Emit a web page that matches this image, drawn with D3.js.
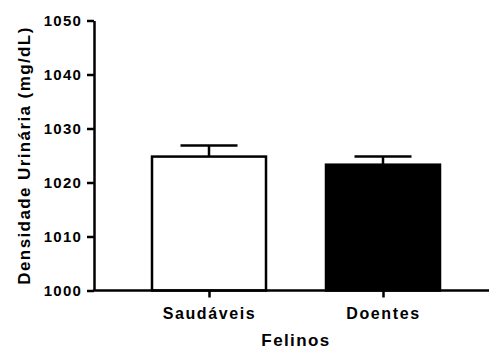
<!DOCTYPE html>
<html>
<head>
<meta charset="utf-8">
<script src="https://cdn.jsdelivr.net/npm/d3@7"></script>
<style>
    body { margin: 0; background: #fff; }
    text { font-family: "Liberation Sans", Arial, sans-serif; font-weight: bold; fill: #000; }
    .axis path, .axis line { stroke: #000; stroke-width: 2.5; }
</style>
</head>
<body>
<script>
//chart data
var categories = ["Saudáveis", "Doentes"];
var means = [1024.8, 1023.3];
var errors = [2.05, 1.5];
var fills = ["#ffffff", "#000000"];
var yTicks = [1000, 1010, 1020, 1030, 1040, 1050];

window.onload = drawChart();

function drawChart(){

    var width = 490,
        height = 349;

    var svg = d3.select("body")
        .append("svg")
        .attr("width", width)
        .attr("height", height);

    //y scale from the plot frame
    var y = d3.scaleLinear()
        .domain([1000, 1050])
        .range([290.5, 20.5]);

    //category positions
    var x = d3.scalePoint()
        .domain(categories)
        .range([122, 470])
        .padding(0.5);

    var barWidth = 114,
        capWidth = 57;

    //y axis
    var yAxis = svg.append("g")
        .attr("class", "axis")
        .attr("transform", "translate(94,0)")
        .call(d3.axisLeft(y)
            .tickValues(yTicks)
            .tickFormat(d3.format("d"))
            .tickSize(7)
            .tickSizeOuter(0)
            .tickPadding(5));

    yAxis.selectAll("text")
        .style("font-size", "15px")
        .style("letter-spacing", "1.2px");

    //bars
    var bars = svg.selectAll(".bar")
        .data(categories)
        .enter()
        .append("rect")
        .attr("class", "bar")
        .attr("x", function(d){ return x(d) - barWidth / 2; })
        .attr("y", function(d, i){ return y(means[i]); })
        .attr("width", barWidth)
        .attr("height", function(d, i){ return y(1000) - y(means[i]); })
        .attr("fill", function(d, i){ return fills[i]; })
        .attr("stroke", "#000")
        .attr("stroke-width", 2.5);

    //error bars (upper only)
    svg.selectAll(".errLine")
        .data(categories)
        .enter()
        .append("line")
        .attr("x1", function(d){ return x(d); })
        .attr("x2", function(d){ return x(d); })
        .attr("y1", function(d, i){ return y(means[i]); })
        .attr("y2", function(d, i){ return y(means[i] + errors[i]); })
        .attr("stroke", "#000")
        .attr("stroke-width", 2.5);

    svg.selectAll(".errCap")
        .data(categories)
        .enter()
        .append("line")
        .attr("x1", function(d){ return x(d) - capWidth / 2; })
        .attr("x2", function(d){ return x(d) + capWidth / 2; })
        .attr("y1", function(d, i){ return y(means[i] + errors[i]); })
        .attr("y2", function(d, i){ return y(means[i] + errors[i]); })
        .attr("stroke", "#000")
        .attr("stroke-width", 2.5);

    //x axis
    var xAxis = svg.append("g")
        .attr("class", "axis")
        .attr("transform", "translate(0," + y(1000) + ")")
        .call(d3.axisBottom(x).tickSize(7).tickPadding(10));

    xAxis.select(".domain").remove();
    xAxis.append("line")
        .attr("x1", 93)
        .attr("x2", 489)
        .attr("stroke", "#000")
        .attr("stroke-width", 2.5);

    xAxis.selectAll("text")
        .style("font-size", "16px")
        .style("letter-spacing", "1.6px");

    //axis titles
    svg.append("text")
        .attr("x", (x(categories[0]) + x(categories[1])) / 2)
        .attr("y", 346)
        .attr("text-anchor", "middle")
        .style("font-size", "17px")
        .style("letter-spacing", "1.4px")
        .text("Felinos");

    svg.append("text")
        .attr("transform", "translate(30,155.5) rotate(-90)")
        .attr("text-anchor", "middle")
        .style("font-size", "17px")
        .style("letter-spacing", "1.4px")
        .text("Densidade Urinária (mg/dL)");
}
</script>
</body>
</html>
